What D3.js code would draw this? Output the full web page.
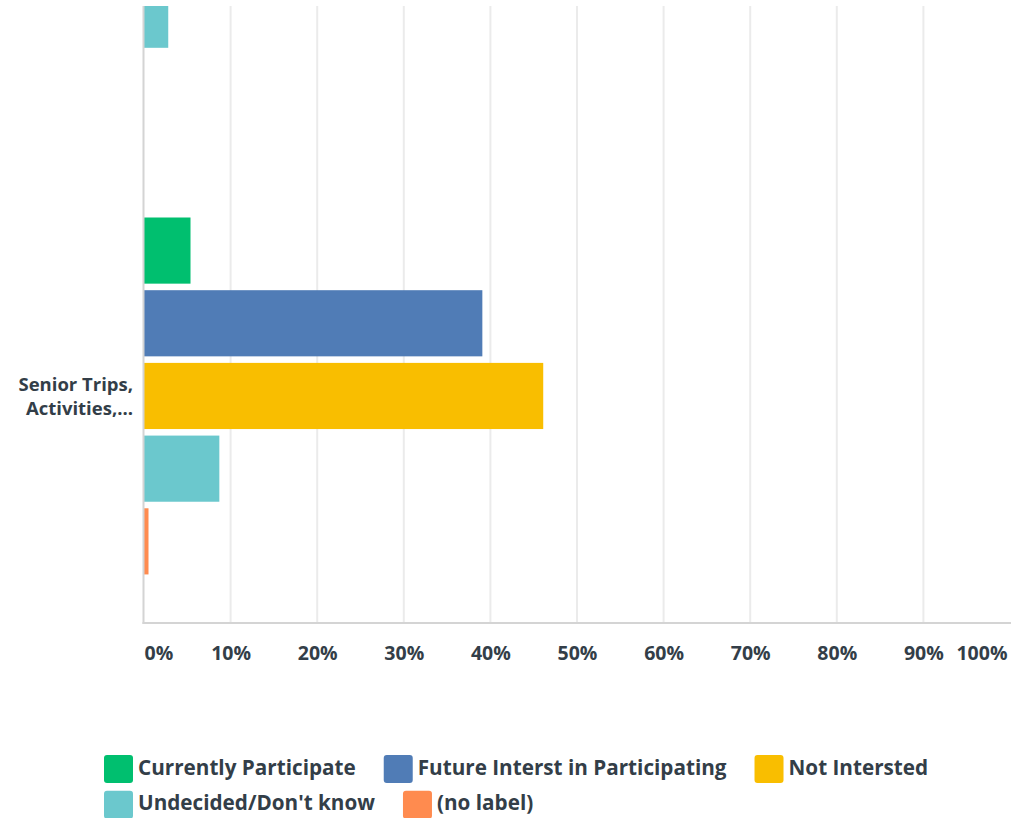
<!DOCTYPE html>
<html>
<head>
<meta charset="utf-8">
<script src="https://cdn.jsdelivr.net/npm/d3@7/dist/d3.min.js"></script>
<style>
  html, body { margin: 0; padding: 0; background: #ffffff; }
  svg { display: block; }
  text { font-family: "Open Sans", "Noto Sans", sans-serif; fill: #333e48; font-weight: 700; }
</style>
</head>
<body>
<svg id="chart" width="1011" height="818"></svg>
<script>
// Survey answers per activity (percent of respondents).
// The first activity sits mostly above the visible plot; only its lower bars show.
const categories = ["", "Senior Trips, Activities,..."];
const categoryLines = [[""], ["Senior Trips,", "Activities,..."]];
const seriesNames = ["Currently Participate", "Future Interst in Participating", "Not Intersted", "Undecided/Don't know", "(no label)"];
const seriesColors = ["#00bf6f", "#507cb6", "#f9be00", "#6bc8cd", "#ff8b4f"];
const currentlyParticipate = [null, 5.37];
const futureInterest = [null, 39.07];
const notInterested = [null, 46.1];
const undecided = [2.8, 8.7];
const noLabel = [0, 0.52];
const tickValues = [0, 10, 20, 30, 40, 50, 60, 70, 80, 90, 100];
const tickLabels = ["0%", "10%", "20%", "30%", "40%", "50%", "60%", "70%", "80%", "90%", "100%"];

const seriesValues = [currentlyParticipate, futureInterest, notInterested, undecided, noLabel];

const svg = d3.select("#chart");

// Plot frame
const plotLeft = 144, plotRight = 1010;
const visibleTop = 6, plotBottom = 623;
const bandTop = -285;

const x = d3.scaleLinear().domain([0, 100]).range([plotLeft, plotRight]);
const y = d3.scaleBand().domain(categories).range([bandTop, plotBottom])
  .paddingInner(0.2137).paddingOuter(0.107);
const ySeries = d3.scaleBand().domain(d3.range(seriesNames.length))
  .range([0, y.bandwidth()]).paddingInner(0.09).paddingOuter(0);

svg.append("defs").append("clipPath").attr("id", "plotClip")
  .append("rect").attr("x", 0).attr("y", visibleTop)
  .attr("width", 1011).attr("height", plotBottom - visibleTop);

// Vertical gridlines
svg.append("g").selectAll("line")
  .data(tickValues.filter(v => v > 0 && v < 100))
  .join("line")
  .attr("x1", d => x(d)).attr("x2", d => x(d))
  .attr("y1", visibleTop).attr("y2", plotBottom)
  .attr("stroke", "#ebebeb").attr("stroke-width", 2);

// Bars
const bars = [];
categories.forEach((c, ci) => {
  seriesValues.forEach((vals, si) => {
    if (vals[ci] != null) bars.push({ c, si, v: vals[ci] });
  });
});
svg.append("g").attr("clip-path", "url(#plotClip)")
  .selectAll("rect").data(bars).join("rect")
  .attr("x", x(0))
  .attr("y", d => y(d.c) + ySeries(d.si))
  .attr("width", d => x(d.v) - x(0))
  .attr("height", ySeries.bandwidth())
  .attr("fill", d => seriesColors[d.si]);

// Axis lines
svg.append("line").attr("x1", plotLeft - 0.5).attr("x2", plotLeft - 0.5)
  .attr("y1", visibleTop).attr("y2", plotBottom + 1)
  .attr("stroke", "#d4d4d4").attr("stroke-width", 2);
svg.append("line").attr("x1", plotLeft - 1.5).attr("x2", 1011)
  .attr("y1", plotBottom).attr("y2", plotBottom)
  .attr("stroke", "#d4d4d4").attr("stroke-width", 2);

// Tick labels along the value axis
const xAxis = d3.axisBottom(x).tickValues(tickValues)
  .tickFormat((d, i) => tickLabels[i]).tickSize(0).tickPadding(0);
const xg = svg.append("g").attr("transform", `translate(0,${plotBottom})`).call(xAxis);
xg.select(".domain").remove();
xg.selectAll("text")
  .attr("y", 37).attr("dy", 0)
  .style("font-size", "19.5px")
  .attr("fill", "#333e48")
  .attr("text-anchor", (d, i) => i === 0 ? "start" : (i === tickValues.length - 1 ? "end" : "middle"))
  .attr("dx", (d, i) => i === tickValues.length - 1 ? -3 : 0);

// Category labels
const labelG = svg.append("g");
categories.forEach((c, ci) => {
  const lines = categoryLines[ci];
  const cy = y(c) + y.bandwidth() / 2;
  const t = labelG.append("text").attr("text-anchor", "end").style("font-size", "18.5px");
  lines.forEach((ln, li) => {
    t.append("tspan").attr("x", 133)
      .attr("y", cy + 7 + (li - (lines.length - 1) / 2) * 24.6)
      .text(ln);
  });
});

// Legend, flowing left to right and wrapping
const legend = svg.append("g");
const legendLeft = 104, legendMax = 1000, rowTop = 755, rowStep = 35.7;
const sw = 29, sh = 28, textGap = 5, itemGap = 28;
let lx = legendLeft, row = 0;
seriesNames.forEach((name, i) => {
  const g = legend.append("g");
  const t = g.append("text").style("font-size", "20.7px").text(name);
  const w = t.node().getComputedTextLength();
  if (lx + sw + textGap + w > legendMax) { row += 1; lx = legendLeft; }
  const top = rowTop + row * rowStep;
  g.insert("rect", "text").attr("x", lx).attr("y", top).attr("width", sw).attr("height", sh)
    .attr("rx", 3).attr("fill", seriesColors[i]);
  t.attr("x", lx + sw + textGap).attr("y", top + 19.5);
  lx += sw + textGap + w + itemGap;
});
</script>
</body>
</html>
